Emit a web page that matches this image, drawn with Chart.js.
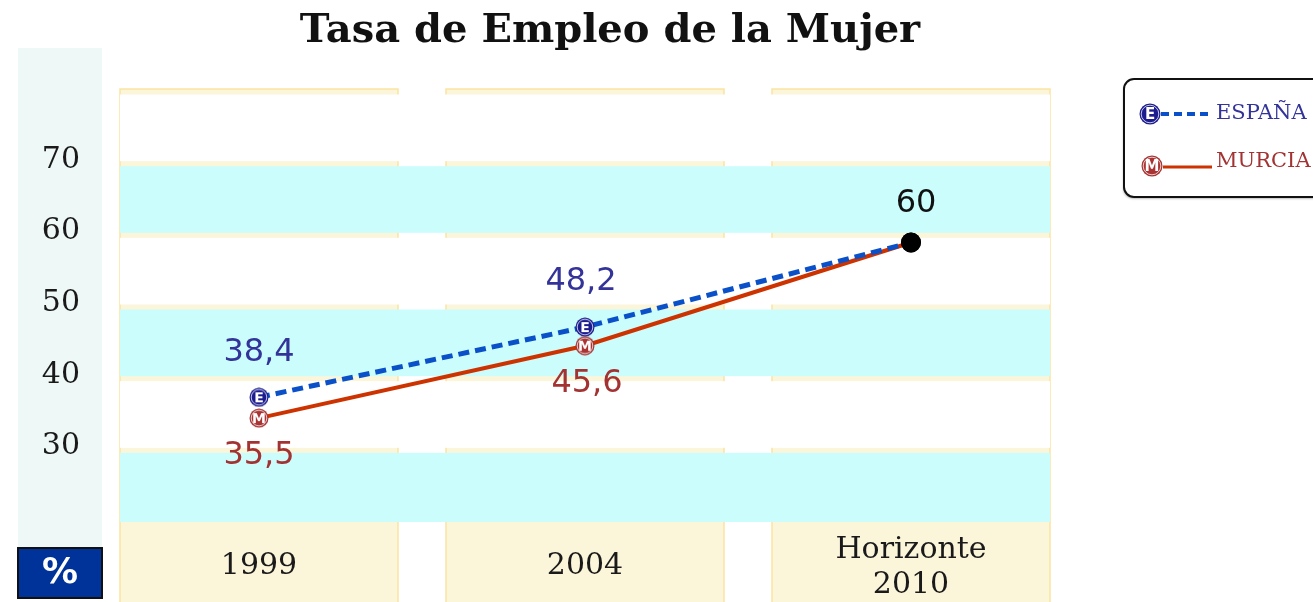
<!DOCTYPE html>
<html>
<head>
<meta charset="utf-8">
<script src="https://cdn.jsdelivr.net/npm/chart.js@4.4.1/dist/chart.umd.min.js"></script>
<style>
  html, body { margin: 0; padding: 0; background: #fff; }
  #wrap { width: 1313px; height: 602px; }
</style>
</head>
<body>
<div id="wrap"><canvas id="empleoChart"></canvas></div>
<script>
// Data
const categories = ['1999', '2004', 'Horizonte 2010'];
const espana = [38.4, 48.2, 60];
const murcia = [35.5, 45.6, 60];
const yTicks = [30, 40, 50, 60, 70];
const bandEdges = [21, 31, 41, 51, 61, 71, 81];

const BLUE_LINE = '#0a50c8';
const RED_LINE = '#cc3300';
const BLUE_TEXT = '#333399';
const RED_TEXT = '#a33333';

// Little round markers with a letter, like the original
function makeMarker(letter, fill, size) {
    const c = document.createElement('canvas');
    c.width = size;
    c.height = size;
    const g = c.getContext('2d');
    const r = size / 2;
    g.beginPath();
    g.arc(r, r, r - 0.5, 0, Math.PI * 2);
    g.fillStyle = fill;
    g.fill();
    g.beginPath();
    g.arc(r, r, r - 2.2, 0, Math.PI * 2);
    g.strokeStyle = 'rgba(255,255,255,0.75)';
    g.lineWidth = 1;
    g.stroke();
    g.fillStyle = '#fff';
    g.font = 'bold ' + Math.round(size * 0.68) + 'px "DejaVu Sans"';
    g.textAlign = 'center';
    g.textBaseline = 'middle';
    g.fillText(letter, r, r + 1);
    return c;
}

const eMark = makeMarker('E', '#1c1c8e', 20);
const mMark = makeMarker('M', '#a83434', 20);
const eMarkBig = makeMarker('E', '#1c1c8e', 22);
const mMarkBig = makeMarker('M', '#a83434', 22);

function fmt(v) {
    return String(v).replace('.', ',');
}

// Background: left axis panel, beige columns, cyan/white bands
const backdrop = {
    id: 'backdrop',
    beforeDraw(chart) {
        const ctx = chart.ctx;
        const area = chart.chartArea;
        const x = chart.scales.x;
        const y = chart.scales.y;
        const colW = 278;
        ctx.save();

        ctx.fillStyle = '#eef8f6';
        ctx.fillRect(18, 48, 84, 500);

        // columns
        categories.forEach((c, i) => {
            const cx = x.getPixelForValue(i);
            ctx.fillStyle = '#fbf5da';
            ctx.fillRect(cx - colW / 2, area.top - 3, colW, chart.height - area.top + 3);
            ctx.strokeStyle = '#fce3a2';
            ctx.lineWidth = 1.5;
            ctx.beginPath();
            ctx.moveTo(cx - colW / 2, chart.height);
            ctx.lineTo(cx - colW / 2, area.top - 3);
            ctx.lineTo(cx + colW / 2, area.top - 3);
            ctx.lineTo(cx + colW / 2, chart.height);
            ctx.stroke();
        });

        // bands
        const left = x.getPixelForValue(0) - colW / 2;
        const right = x.getPixelForValue(categories.length - 1) + colW / 2;
        for (let i = 0; i < bandEdges.length - 1; i++) {
            const yb = y.getPixelForValue(bandEdges[i]);
            const yt = y.getPixelForValue(bandEdges[i + 1]);
            ctx.fillStyle = i % 2 === 0 ? '#ccfdfd' : '#ffffff';
            const top = yt + 2.5;
            const bottom = i === 0 ? yb : yb - 2.5;
            ctx.fillRect(left, top, right - left, bottom - top);
        }

        // % box
        ctx.fillStyle = '#003399';
        ctx.fillRect(18, 548, 84, 50);
        ctx.strokeStyle = '#111';
        ctx.lineWidth = 2;
        ctx.strokeRect(18, 548, 84, 50);
        ctx.fillStyle = '#fff';
        ctx.font = 'bold 36px "DejaVu Sans"';
        ctx.textAlign = 'center';
        ctx.textBaseline = 'middle';
        ctx.fillText('%', 60, 574);
        ctx.restore();
    },
    afterDatasetsDraw(chart) {
        const ctx = chart.ctx;
        const mE = chart.getDatasetMeta(0).data;
        const mM = chart.getDatasetMeta(1).data;
        ctx.save();
        ctx.font = '32px "DejaVu Sans"';
        ctx.textAlign = 'center';
        ctx.textBaseline = 'middle';
        espana.forEach((v, i) => {
            const p = mE[i];
            if (i === espana.length - 1) {
                ctx.fillStyle = '#111';
                ctx.fillText(fmt(v), p.x + 5, p.y - 39);
            } else {
                ctx.fillStyle = BLUE_TEXT;
                ctx.fillText(fmt(v), p.x + (i === 1 ? -4 : 0), p.y - 45);
            }
        });
        murcia.forEach((v, i) => {
            if (i === murcia.length - 1) return;
            const p = mM[i];
            ctx.fillStyle = RED_TEXT;
            ctx.fillText(fmt(v), p.x + (i === 1 ? 2 : 0), p.y + 38);
        });
        ctx.restore();
    },
    afterDraw(chart) {
        const ctx = chart.ctx;
        const x = chart.scales.x;
        ctx.save();
        // x labels
        ctx.font = '30px "DejaVu Serif"';
        ctx.fillStyle = '#1a1a1a';
        ctx.textAlign = 'center';
        ctx.textBaseline = 'middle';
        categories.forEach((c, i) => {
            const cx = x.getPixelForValue(i);
            const words = c.split(' ');
            if (words.length > 1) {
                ctx.fillText(words[0], cx, 550);
                ctx.fillText(words.slice(1).join(' '), cx, 585);
            } else {
                ctx.fillText(c, cx, 566);
            }
        });

        // legend
        ctx.shadowColor = 'rgba(0,0,0,0.25)';
        ctx.shadowOffsetX = -1;
        ctx.shadowOffsetY = 2;
        ctx.shadowBlur = 2;
        ctx.beginPath();
        ctx.roundRect(1124, 79, 210, 118, 10);
        ctx.fillStyle = '#fff';
        ctx.fill();
        ctx.shadowColor = 'transparent';
        ctx.strokeStyle = '#111';
        ctx.lineWidth = 2;
        ctx.stroke();

        ctx.lineWidth = 4;
        ctx.strokeStyle = BLUE_LINE;
        ctx.setLineDash([8, 5]);
        ctx.beginPath();
        ctx.moveTo(1161, 114);
        ctx.lineTo(1212, 114);
        ctx.stroke();
        ctx.setLineDash([]);
        ctx.lineWidth = 3;
        ctx.strokeStyle = RED_LINE;
        ctx.beginPath();
        ctx.moveTo(1163, 167);
        ctx.lineTo(1212, 167);
        ctx.stroke();
        ctx.drawImage(eMarkBig, 1150 - 11, 114 - 11);
        ctx.drawImage(mMarkBig, 1152 - 11, 166 - 11);

        ctx.font = '21px "DejaVu Serif"';
        ctx.textAlign = 'left';
        ctx.fillStyle = BLUE_TEXT;
        ctx.fillText(chart.data.datasets[0].label, 1216, 114);
        ctx.fillStyle = RED_TEXT;
        ctx.fillText(chart.data.datasets[1].label, 1216, 162);
        ctx.restore();
    }
};

const ctx = document.getElementById('empleoChart').getContext('2d');
const empleoChart = new Chart(ctx, {
    type: 'line',
    data: {
        labels: categories,
        datasets: [{
            label: 'ESPAÑA',
            data: espana,
            borderColor: BLUE_LINE,
            borderWidth: 5,
            borderDash: [11, 6],
            tension: 0,
            fill: false,
            pointStyle: [eMark, eMark, 'circle'],
            pointRadius: 10,
            pointBackgroundColor: '#000',
            pointBorderColor: '#000',
            pointBorderWidth: 0
        }, {
            label: 'MURCIA',
            data: murcia,
            borderColor: RED_LINE,
            borderWidth: 4,
            tension: 0,
            fill: false,
            pointStyle: [mMark, mMark, 'circle'],
            pointRadius: 10,
            pointBackgroundColor: '#000',
            pointBorderColor: '#000',
            pointBorderWidth: 0
        }]
    },
    options: {
        responsive: true,
        maintainAspectRatio: false,
        devicePixelRatio: 1,
        animation: false,
        layout: {
            // keeps the title centred where the original has it
            padding: { left: 0, right: 93, top: 0, bottom: 0 }
        },
        scales: {
            x: {
                type: 'category',
                offset: true,
                grid: { display: false, drawTicks: false },
                border: { display: false },
                ticks: { display: false },
                afterFit(scale) { scale.height = 80; }
            },
            y: {
                min: 21,
                max: 81,
                grid: { display: false, drawTicks: false },
                border: { display: false },
                afterBuildTicks(scale) {
                    scale.ticks = yTicks.map(v => ({ value: v }));
                },
                afterFit(scale) { scale.width = 96; },
                ticks: {
                    padding: 16,
                    labelOffset: -11,
                    color: '#1a1a1a',
                    font: { family: 'DejaVu Serif', size: 30 }
                }
            },
            // empty right axis, reserves room for the legend box
            yRight: {
                position: 'right',
                min: 21,
                max: 81,
                grid: { display: false, drawTicks: false },
                border: { display: false },
                ticks: { display: false },
                afterFit(scale) { scale.width = 146; }
            }
        },
        plugins: {
            legend: { display: false },
            tooltip: { enabled: false },
            title: {
                display: true,
                text: 'Tasa de Empleo de la Mujer',
                color: '#111',
                font: { family: 'DejaVu Serif', weight: 'bold', size: 40, lineHeight: 1.2 },
                padding: { top: 7.6, bottom: 36.4 }
            }
        }
    },
    plugins: [backdrop]
});
</script>
</body>
</html>
